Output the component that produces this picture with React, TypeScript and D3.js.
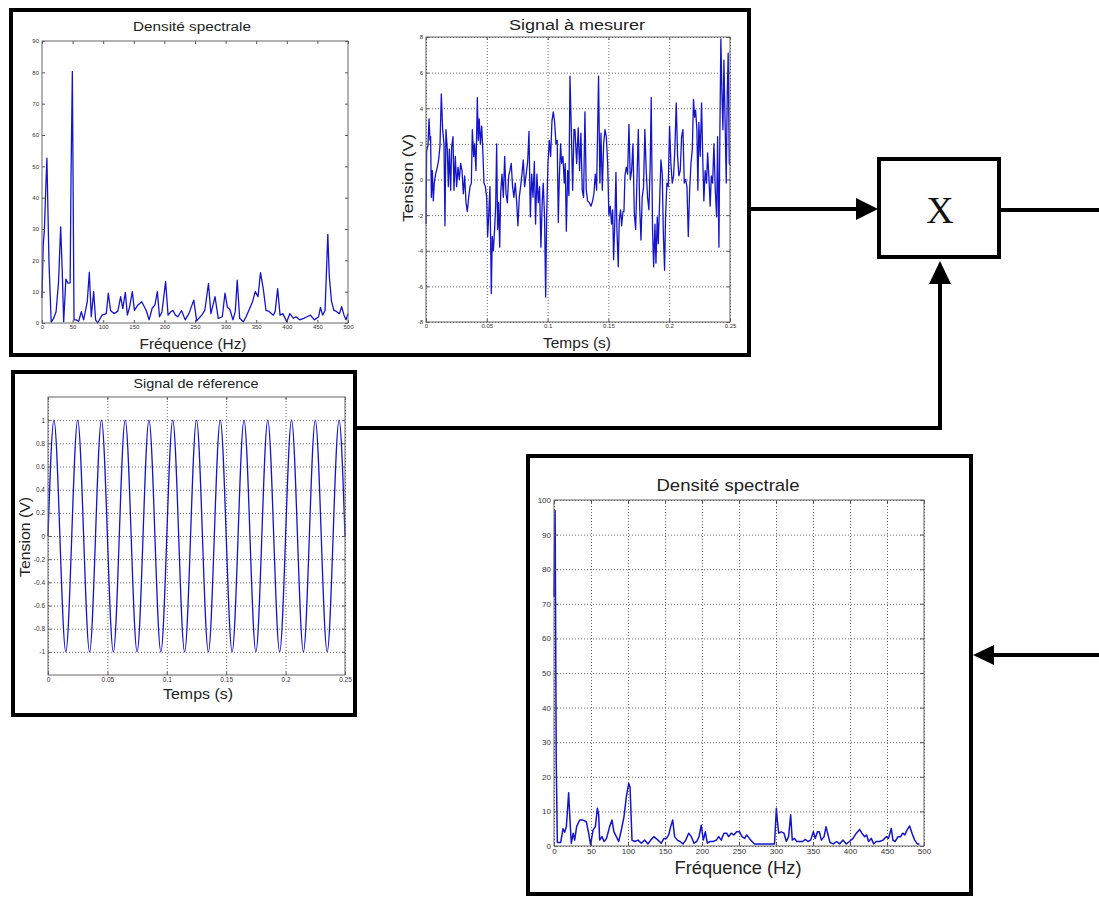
import * as d3 from "d3";
import React, { useEffect, useRef } from "react";

// Densité spectrale du signal à mesurer : [Hz, amplitude]
const spectreMesure: [number, number][] = [
  [0, 8], [2, 25], [4, 30], [6, 42], [8, 52.6], [11.4, 19.5], [15, 0.3], [19, 1.5], [23, 3.6], [27, 13],
  [30.5, 30.7], [33, 17], [35.4, 0.4], [39, 14], [42.5, 12.7], [46, 12.8], [47.4, 46], [49.6, 80.3], [52.3, 1],
  [56, 1], [60, 0.5], [64.2, 3.6], [68, 1], [74, 6.8], [77.3, 16.2], [80.5, 2], [84.4, 10], [87.6, 1], [91, 0],
  [98, 2.5], [105, 3], [108.4, 9.5], [112, 4], [117.6, 3], [124, 3.8], [128.5, 8.4], [132, 4.6], [136.2, 9.8],
  [139.5, 2.5], [143, 5], [147.6, 10], [151, 4], [156.5, 5.7], [163, 6.8], [170.5, 3.9], [175, 1], [180, 4.7],
  [184.5, 5.8], [188.5, 10], [192, 2], [196, 3.5], [202, 13.2], [206, 2.5], [210, 3.5], [214, 4], [218, 2.5],
  [222, 2], [228, 4], [234, 1], [240, 3], [248, 7.3], [252.7, 0.7], [261, 2.5], [266, 4], [272, 12.6], [276, 3],
  [282.7, 8.4], [288, 1.5], [294.6, 2], [299, 9.5], [303, 5], [307, 4.3], [312, 1], [315.8, 3.7], [319, 13.7],
  [323, 1.5], [329, 0.4], [333.5, 2], [339, 4.5], [344, 6.8], [348.5, 10], [353, 8.4], [357, 16.1], [361.5, 11],
  [366, 4], [371, 3.7], [378, 2.5], [381, 3.7], [385, 11], [389, 2.5], [393.5, 3], [400, 0.4], [405, 3],
  [411, 1.5], [415, 2], [421, 1], [427.6, 1.5], [433, 2], [438.6, 2.5], [445, 1], [452, 2], [455, 5], [458.6, 2.5],
  [462.5, 4], [467, 28.3], [469.4, 15], [473, 7], [477, 4], [481, 3.7], [486, 3], [489.6, 5.2], [493.5, 2.5],
  [496.7, 1], [500, 3],
];

// Signal à mesurer : [ms, V]
const signalMesure: [number, number][] = [
  [0, -2.5], [0.5, 1.6], [1.6, 1.9], [2.5, 3.4], [3.3, 2.2], [3.8, 2.4], [4.4, -1], [5.2, 0.5], [6, -1.2],
  [6.8, -0.2], [7.9, 0.3], [9.3, 0.7], [10.4, 1.1], [11.5, 1.9], [12.6, 4.8], [13.7, 2.8], [14.8, 2], [15.6, -2.6],
  [16.4, 2.8], [17.5, 1.7], [18.4, -0.4], [19.2, 1.7], [20.3, -0.6], [21.1, 1.8], [22.2, 2.4], [23, -0.6],
  [24.1, 1.3], [25.2, -0.4], [26.3, 0.7], [27.4, 0], [28.5, 0.9], [29.6, 0.5], [30.7, -0.8], [31.8, 0.2],
  [32.9, -1.3], [34, -1.8], [35.1, -1], [36.2, -0.4], [37.3, -0.2], [38.1, 2.8], [39.2, 1.3], [40, 2], [41.1, 0.5],
  [42.2, 4.6], [43, 2.2], [43.8, 3.4], [44.7, 2], [45.8, 3], [46.6, 1.8], [47.7, -0.2], [48.8, -0.4], [49.9, -1],
  [50.7, -3.2], [51.5, -2.1], [52.6, -0.4], [53.7, -6.4], [54.5, -3.2], [55.4, -4], [56.4, -2.8], [57.3, -1.5],
  [58.1, 2], [58.9, -2.8], [59.7, -1.3], [60.6, -3.8], [61.4, -0.8], [62.5, 0.3], [63.6, -1], [64.7, 1.3],
  [65.8, -0.8], [66.9, -1.3], [68, 0.2], [69, 0.5], [70.1, 0.9], [71.2, -0.4], [72.3, -1], [73.4, -0.2],
  [74.5, -1.2], [75.6, -2.6], [76.7, -1], [77.8, -0.4], [78.9, 0.3], [80, 1.1], [81.1, -0.4], [82.2, 0.2],
  [83.6, 1], [84.7, 2.7], [85.8, -2.1], [86.9, 0.3], [88, -1], [89.1, 1], [90.1, -2.5], [91.2, 0.3], [92.3, -1.3],
  [93.4, -0.4], [94.5, -3.8], [95.6, -1.2], [96.4, -0.2], [97.5, -2.1], [98.4, -6.6], [99.2, -2.1], [100.3, 0.9],
  [101.4, 2.2], [102.5, 1.3], [103.6, 3.3], [104.7, 3.8], [105.8, 3.2], [106.9, 2], [107.9, 2.2], [108.8, -2.4],
  [109.6, 0], [110.7, 2], [111.5, 0.9], [112.6, 1.3], [113.7, -0.2], [114.5, 0.9], [115.4, -2.9], [116.5, 0.5],
  [117.5, -0.9], [118.4, 5.8], [119.5, 2.8], [120.6, -0.6], [121.7, 2.8], [122.5, 2.8], [123.9, 0.9], [125.2, 2.9],
  [126.3, 0.5], [127.4, 2.6], [128.5, -0.6], [129.6, -1], [130.7, 3.8], [131.8, -0.6], [132.9, -1.2], [134.3, -1.3],
  [135.7, -1.5], [137, -1.2], [138.1, -0.8], [139.2, 0.3], [140.3, -0.6], [141.1, 2.6], [141.9, 5.8], [143, -0.2],
  [143.9, 2.6], [145, -0.6], [146.1, 2], [147.2, 2.8], [148.3, 2.4], [149.4, 0.9], [150.4, -2], [151.5, -1.5],
  [152.6, -2.5], [153.5, -1.7], [154.3, -4.5], [155.4, -2.1], [156.2, 0.4], [157, -2.8], [158.1, -4.9],
  [158.9, -2.3], [160, -1.7], [160.9, -2.6], [162, -1.8], [162.8, -1.8], [163.6, 0.2], [164.7, 0.7], [165.8, 0.3],
  [166.9, 3.1], [168, 0], [169.1, 0.5], [170.2, 2], [171.3, -1.9], [172.4, -2.8], [173.5, 0], [174.6, 2.8],
  [175.7, -1.5], [176.8, -3.4], [177.8, -1], [178.9, -0.4], [180, 2.8], [181.1, 0.5], [182.2, -1], [183.3, -1.7],
  [184.4, 0.9], [185.2, 4.6], [186.3, -2.8], [187.2, -4.9], [188.3, -2.5], [189.1, -4.7], [190.2, -2.1],
  [191, -3.6], [192.1, -1.3], [193.2, 1.1], [194.3, 0.3], [195.1, -2.8], [196.2, -5.1], [197, -2.1], [198.1, -0.2],
  [199.2, -0.4], [200.3, 3], [201.4, 0.9], [202.5, -0.2], [203.6, 0.2], [204.7, 1.8], [205.8, 4.3], [206.9, 1.3],
  [208, 0.2], [209.1, 0.5], [210.2, 2.4], [211.3, 2.8], [212.4, -0.2], [213.5, 0], [214.6, -0.4], [215.7, -3.2],
  [216.8, -0.6], [217.9, 0.9], [219, 1.7], [220, 4.5], [220.9, 3.5], [221.7, 3.9], [222.8, 2.8], [223.6, -0.6],
  [224.4, 3.2], [225.5, 1.3], [226.6, 4.3], [227.7, 0.9], [228.5, -1.2], [229.6, 0.5], [230.7, -0.2], [231.6, 1.5],
  [232.6, 0.2], [233.7, -1.5], [234.6, 0.2], [235.7, -0.2], [236.8, 2], [237.9, -0.6], [239, -2.1], [239.8, 2.4],
  [240.9, -3.8], [241.7, 2.8], [242.5, 7.9], [243.3, 5], [244.2, 2.8], [245, 6.7], [246.1, 2.8], [246.9, -0.2],
  [247.7, 4.6], [248.5, 7.1], [249.4, 0.9], [250, 0.8],
];

// Signal de référence, un point toutes les 5 ms (V)
const refPasMs = 5;
const signalReference = [
  0, 1, 0, -1, 0, 1, 0, -1, 0, 1, 0, -1, 0, 1, 0, -1, 0, 1, 0, -1, 0, 1, 0, -1, 0, 1,
  0, -1, 0, 1, 0, -1, 0, 1, 0, -1, 0, 1, 0, -1, 0, 1, 0, -1, 0, 1, 0, -1, 0, 1, 0,
];

// Densité spectrale du produit : [Hz, amplitude]
const spectreProduit: [number, number][] = [
  [0, 72], [1.5, 97], [3, 25], [4.5, 1], [9, 1], [12.2, 5], [14.4, 4], [16.7, 5.6], [19.8, 15.4], [21.6, 7.5],
  [23.4, 0.8], [26, 3.7], [27.9, 1.7], [30.6, 5.6], [34.7, 7.5], [39.2, 7.5], [43.7, 7], [46.8, 3.7], [49.5, 0.3],
  [52.7, 4.6], [55.9, 5.6], [58.6, 10.9], [60.4, 9], [61.7, 1.7], [64.9, 2.7], [67.6, 1.3], [71, 2.2], [75.2, 5.6],
  [78.4, 7.5], [81, 4.1], [84.2, 2.7], [87.4, 1.3], [91, 4.6], [94.6, 8.5], [97.8, 14.3], [101, 18.1], [102.8, 17],
  [105.4, 1.7], [109, 1.3], [113.5, 1.7], [118, 0.8], [122.5, 1.7], [127, 0.6], [130.6, 1.7], [135, 2.7],
  [140.5, 1.7], [145, 0.8], [148.6, 2.2], [152, 2.2], [155, 3.2], [157.7, 5.6], [160.4, 7.5], [163, 2.7],
  [166.7, 1.7], [170.3, 1.3], [174.3, 0.6], [178, 1.7], [182, 3.7], [185.6, 2.7], [189.2, 0.8], [192.8, 1.3],
  [196, 2.7], [199, 6], [201.8, 1.7], [204.5, 4.1], [207.2, 0.8], [210.8, 1.3], [214.8, 1.3], [219.4, 1.7],
  [222.5, 2.7], [226, 1.7], [229.7, 3.7], [233.3, 3.7], [236, 2.7], [239.6, 3.7], [243, 3.2], [246.8, 4.1],
  [250.8, 4.1], [254, 2.7], [257.6, 2.2], [260.4, 3.2], [264, 2.2], [267.6, 1.3], [271, 0.6], [284.7, 0.6],
  [298, 0.6], [300.5, 10.9], [301.8, 7.5], [303.6, 3.7], [307, 4.1], [310.8, 3.7], [314, 1.3], [317, 2.7],
  [319.8, 9], [322, 1.7], [325, 2.2], [328, 1.3], [336, 1.3], [339.6, 1.9], [343, 1.3], [346.8, 1.7], [350.5, 4.1],
  [353, 2.2], [356, 4.1], [358.6, 4.1], [361.3, 1.7], [365, 2.7], [367.6, 5.6], [370.3, 3.2], [373, 1],
  [377.5, 0.6], [382, 1.3], [386, 0.6], [390.5, 1.7], [395, 0.6], [399.4, 1.3], [404, 2.2], [408.6, 3.7],
  [413, 4.8], [416, 3.7], [419.8, 2.7], [422.5, 3.2], [425, 1.3], [428.8, 2.2], [432, 0.6], [435.5, 1.3],
  [440, 1.3], [444.6, 1.7], [449, 2.7], [452, 2.2], [455.8, 5.1], [458, 1.7], [461, 1.3], [464.9, 2.7],
  [468.5, 2.7], [471.2, 3.7], [474, 3.2], [477, 4.6], [480.6, 5.8], [483.8, 3.7], [487.4, 1.7], [491, 0.6],
  [494, 0.6],
];

const freqTicks = [0, 50, 100, 150, 200, 250, 300, 350, 400, 450, 500];
const tempsTicks = [0, 0.05, 0.1, 0.15, 0.2, 0.25];
const spectreMesureTicks = [0, 10, 20, 30, 40, 50, 60, 70, 80, 90];
const tensionTicks = [-8, -6, -4, -2, 0, 2, 4, 6, 8];
const referenceTicks = [-1, -0.8, -0.6, -0.4, -0.2, 0, 0.2, 0.4, 0.6, 0.8, 1];
const spectreProduitTicks = [0, 10, 20, 30, 40, 50, 60, 70, 80, 90, 100];

const FONT = "'Liberation Sans', Arial, sans-serif";
const BLUE = "#1414cc";
const fmt = (d: number) => String(+d.toFixed(2));

type Label = { text: string; x: number; y: number; size: number; len: number };

function drawPlot(svg: any, cfg: any) {
  const x = d3.scaleLinear().domain(cfg.xDomain).range([cfg.left, cfg.right]);
  const y = d3.scaleLinear().domain(cfg.yDomain).range([cfg.bottom, cfg.top]);
  const w = cfg.right - cfg.left;
  const h = cfg.bottom - cfg.top;
  const g = svg.append("g");

  // grille pointillée
  if (cfg.grid) {
    g.append("g")
      .attr("transform", `translate(${cfg.left},0)`)
      .call(d3.axisLeft(y).tickValues(cfg.yTicks).tickSize(-w).tickFormat(() => ""))
      .call((a: any) => a.select(".domain").remove())
      .selectAll("line")
      .attr("stroke", "#444")
      .attr("stroke-width", 0.8)
      .attr("stroke-dasharray", "1,2");
    g.append("g")
      .attr("transform", `translate(0,${cfg.bottom})`)
      .call(d3.axisBottom(x).tickValues(cfg.xTicks).tickSize(-h).tickFormat(() => ""))
      .call((a: any) => a.select(".domain").remove())
      .selectAll("line")
      .attr("stroke", "#444")
      .attr("stroke-width", 0.8)
      .attr("stroke-dasharray", "1,2");
  }

  // courbe
  const line = d3.line<[number, number]>()
    .x(d => x(d[0]))
    .y(d => y(d[1]));
  if (cfg.curve) line.curve(cfg.curve);
  g.append("path")
    .datum(cfg.data)
    .attr("fill", "none")
    .attr("stroke", BLUE)
    .attr("stroke-width", cfg.lineWidth || 1.2)
    .attr("stroke-linejoin", "round")
    .attr("d", line);

  // axes avec graduations vers l'intérieur
  const tick = cfg.tick || 3;
  const styleAxis = (a: any) => {
    a.select(".domain").remove();
    a.selectAll("line").attr("stroke", "#555");
    a.selectAll("text")
      .attr("fill", "#333")
      .style("font-family", FONT)
      .style("font-size", cfg.tickFont + "px");
  };
  g.append("g")
    .attr("transform", `translate(${cfg.left},0)`)
    .call(d3.axisLeft(y).tickValues(cfg.yTicks).tickSizeInner(-tick).tickSizeOuter(0).tickPadding(3).tickFormat(fmt as any))
    .call(styleAxis);
  g.append("g")
    .attr("transform", `translate(0,${cfg.bottom})`)
    .call(d3.axisBottom(x).tickValues(cfg.xTicks).tickSizeInner(-tick).tickSizeOuter(0).tickPadding(2).tickFormat(fmt as any))
    .call(styleAxis);
  g.append("g")
    .attr("transform", `translate(${cfg.right},0)`)
    .call(d3.axisRight(y).tickValues(cfg.yTicks).tickSizeInner(-tick).tickSizeOuter(0).tickFormat(() => ""))
    .call(styleAxis);
  g.append("g")
    .attr("transform", `translate(0,${cfg.top})`)
    .call(d3.axisTop(x).tickValues(cfg.xTicks).tickSizeInner(-tick).tickSizeOuter(0).tickFormat(() => ""))
    .call(styleAxis);

  g.append("rect")
    .attr("x", cfg.left)
    .attr("y", cfg.top)
    .attr("width", w)
    .attr("height", h)
    .attr("fill", "none")
    .attr("stroke", "#666")
    .attr("stroke-width", 1);

  const putText = (l: Label, rotate = false) => {
    const t = g.append("text")
      .attr("x", rotate ? 0 : l.x)
      .attr("y", rotate ? 0 : l.y)
      .attr("text-anchor", "middle")
      .attr("dominant-baseline", "central")
      .attr("font-family", FONT)
      .attr("font-size", l.size)
      .attr("fill", "#222")
      .attr("textLength", l.len)
      .attr("lengthAdjust", "spacingAndGlyphs")
      .text(l.text);
    if (rotate) t.attr("transform", `translate(${l.x},${l.y}) rotate(-90)`);
  };
  putText(cfg.title);
  putText(cfg.xLabel);
  if (cfg.yLabel) putText(cfg.yLabel, true);
}

const App = () => {
  const svgRef = useRef<SVGSVGElement>(null);

  useEffect(() => {
    const svg = d3.select(svgRef.current);
    svg.selectAll("*").remove();

    // cadres
    const frame = (x: number, y: number, w: number, h: number) =>
      svg.append("rect").attr("x", x).attr("y", y).attr("width", w).attr("height", h)
        .attr("fill", "white").attr("stroke", "black").attr("stroke-width", 4);
    frame(11, 10, 738, 345);
    frame(13, 372, 342, 343);
    frame(528, 456, 443, 438);
    frame(879, 159, 120, 98);

    svg.append("text")
      .attr("x", 940).attr("y", 223)
      .attr("text-anchor", "middle")
      .attr("font-family", "'Liberation Serif', 'Times New Roman', serif")
      .attr("font-size", 38)
      .attr("fill", "#111")
      .text("X");

    // liaisons
    const wire = (pts: [number, number][]) =>
      svg.append("path").attr("d", d3.line()(pts)).attr("fill", "none")
        .attr("stroke", "black").attr("stroke-width", 4).attr("stroke-linejoin", "miter");
    const head = (pts: [number, number][]) =>
      svg.append("path").attr("d", d3.line()(pts) + "Z").attr("fill", "black");

    wire([[751, 209], [860, 209]]);
    head([[856, 198], [878, 209], [856, 220]]);
    wire([[1001, 210], [1099, 210]]);
    wire([[357, 428], [940, 428], [940, 280]]);
    head([[929, 284], [940, 261], [951, 284]]);
    wire([[1099, 655], [990, 655]]);
    head([[994, 645], [973, 655], [994, 665]]);

    drawPlot(svg, {
      left: 42, right: 348, top: 41, bottom: 323,
      xDomain: [0, 500], yDomain: [0, 90],
      xTicks: freqTicks, yTicks: spectreMesureTicks,
      grid: false, tickFont: 6, data: spectreMesure, lineWidth: 1.3,
      title: { text: "Densité spectrale", x: 192, y: 27, size: 12, len: 118 },
      xLabel: { text: "Fréquence (Hz)", x: 193, y: 343, size: 15, len: 107 },
    });

    drawPlot(svg, {
      left: 426, right: 730, top: 37, bottom: 322,
      xDomain: [0, 0.25], yDomain: [-8, 8],
      xTicks: tempsTicks, yTicks: tensionTicks,
      grid: true, tickFont: 6, lineWidth: 1.3,
      data: signalMesure.map(([t, v]) => [t / 1000, v]),
      title: { text: "Signal à mesurer", x: 577, y: 25, size: 14, len: 136 },
      xLabel: { text: "Temps (s)", x: 577, y: 342, size: 15, len: 68 },
      yLabel: { text: "Tension (V)", x: 408, y: 178, size: 14, len: 88 },
    });

    drawPlot(svg, {
      left: 48, right: 345, top: 397, bottom: 675,
      xDomain: [0, 0.25], yDomain: [-1.2, 1.2],
      xTicks: tempsTicks, yTicks: referenceTicks,
      grid: true, tickFont: 6.5, lineWidth: 1.3, curve: d3.curveNatural,
      data: signalReference.map((v, i) => [(i * refPasMs) / 1000, v]),
      title: { text: "Signal de réference", x: 196, y: 383, size: 13, len: 125 },
      xLabel: { text: "Temps (s)", x: 198, y: 693, size: 15, len: 70 },
      yLabel: { text: "Tension (V)", x: 25, y: 537, size: 14, len: 80 },
    });

    drawPlot(svg, {
      left: 554, right: 924, top: 500, bottom: 846,
      xDomain: [0, 500], yDomain: [0, 100],
      xTicks: freqTicks, yTicks: spectreProduitTicks,
      grid: true, tickFont: 8, lineWidth: 1.5, tick: 4,
      data: spectreProduit,
      title: { text: "Densité spectrale", x: 728, y: 485, size: 17, len: 143 },
      xLabel: { text: "Fréquence (Hz)", x: 738, y: 867, size: 19, len: 127 },
    });
  }, []);

  return (
    <svg
      ref={svgRef}
      width={1099}
      height={897}
      style={{ position: "absolute", left: 0, top: 0, background: "white" }}
    />
  );
};

export default App;
